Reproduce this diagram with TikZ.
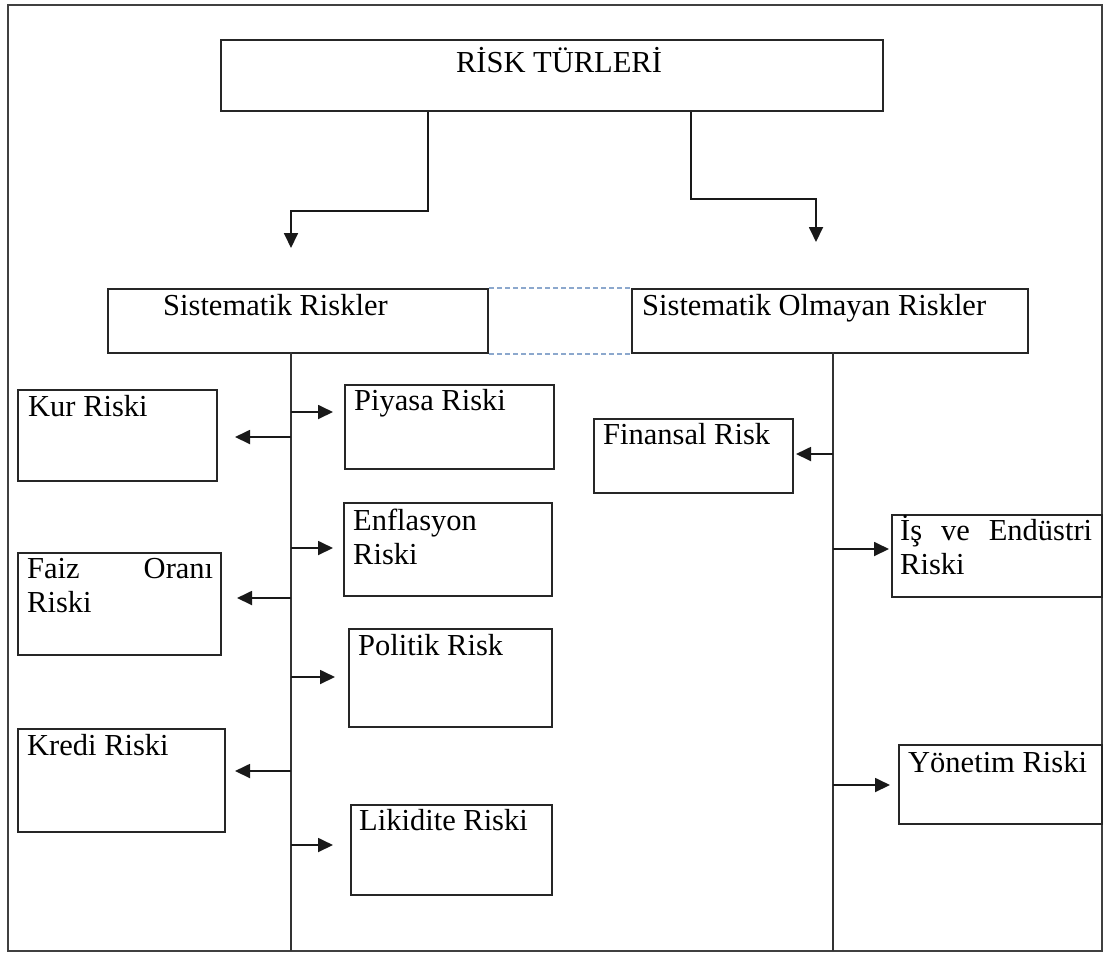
\documentclass[tikz,border=0pt]{standalone}
\usepackage{fontspec}
\setmainfont{Liberation Serif}
\usetikzlibrary{arrows.meta,calc}
\definecolor{dashc}{RGB}{140,168,205}
\begin{document}
\begin{tikzpicture}[x=1pt,y=-1pt,
  box/.style={draw=black!85,line width=2pt,inner sep=0pt,anchor=north west},
  txt/.style={font=\fontsize{30.5}{34.5}\selectfont,inner sep=0pt,anchor=base west},
  arr/.style={draw=black!90,line width=1.8pt,-{Triangle[length=15pt,width=14pt]}},
  trunk/.style={draw=black!80,line width=2pt},
  dashl/.style={draw=dashc,line width=1.3pt,dash pattern=on 5pt off 3pt}]
\useasboundingbox (0,0) rectangle (1107,954);
\draw[line width=2.8pt,black!75] (8,5) rectangle (1102,951);
% boxes
\node[box,minimum width=662pt,minimum height=71pt] (top) at (220,39) {};
\node[box,minimum width=380pt,minimum height=64pt] (sis) at (107,288) {};
\node[box,minimum width=396pt,minimum height=64pt] (sol) at (631,288) {};
\node[box,minimum width=199pt,minimum height=91pt] (kur) at (17,389) {};
\node[box,minimum width=203pt,minimum height=102pt] (faiz) at (17,552) {};
\node[box,minimum width=207pt,minimum height=103pt] (kredi) at (17,728) {};
\node[box,minimum width=209pt,minimum height=84pt] (piy) at (344,384) {};
\node[box,minimum width=208pt,minimum height=93pt] (enf) at (343,502) {};
\node[box,minimum width=203pt,minimum height=98pt] (pol) at (348,628) {};
\node[box,minimum width=201pt,minimum height=90pt] (lik) at (350,804) {};
\node[box,minimum width=199pt,minimum height=74pt] (fin) at (593,418) {};
\node[box,minimum width=210pt,minimum height=82pt] (isb) at (891,514) {};
\node[box,minimum width=203pt,minimum height=79pt] (yon) at (898,744) {};
% texts
\node[txt,anchor=base] (ttop) at (559,72) {RİSK TÜRLERİ};
\node[txt] (tsis) at (163,315) {Sistematik Riskler};
\node[txt] (tsol) at (642,315) {Sistematik Olmayan Riskler};
\node[txt] (tkur) at (28,416) {Kur Riski};
\node[txt] (tfaiz) at (27,578) {\parbox[t]{186pt}{\makebox[186pt][s]{Faiz Oranı}\\Riski}};
\node[txt] (tkredi) at (27,755) {Kredi Riski};
\node[txt] (tpiy) at (354,410) {Piyasa Riski};
\node[txt] (tenf) at (353,530) {\parbox[t]{190pt}{Enflasyon\\Riski}};
\node[txt] (tpol) at (358,655) {Politik Risk};
\node[txt] (tlik) at (359,830) {Likidite Riski};
\node[txt] (tfin) at (603,444) {Finansal Risk};
\node[txt] (tis) at (900,540) {\parbox[t]{192pt}{\makebox[192pt][s]{İş ve Endüstri}\\Riski}};
\node[txt] (tyon) at (908,772) {Yönetim Riski};
% dashed links
\draw[dashl] (sis.north east) -- (sol.north west);
\draw[dashl] (sis.south east) -- (sol.south west);
% top connectors
\coordinate (cL) at (428,0);
\coordinate (cR) at (691,0);
\coordinate (aL) at (291,248);
\coordinate (aR) at (816,242);
\draw[arr] (top.south -| cL) -- (428,211) -| (aL);
\draw[arr] (top.south -| cR) -- (691,199) -| (aR);
% trunks
\coordinate (tLt) at (291,352);
\coordinate (tLb) at (291,951);
\coordinate (tRt) at (833,352);
\coordinate (tRb) at (833,951);
\draw[trunk] (tLt) -- (tLb);
\draw[trunk] (tRt) -- (tRb);
% branch points
\coordinate (bKur) at (291,437);
\coordinate (bFaiz) at (291,598);
\coordinate (bKredi) at (291,771);
\coordinate (bPiy) at (291,412);
\coordinate (bEnf) at (291,548);
\coordinate (bPol) at (291,677);
\coordinate (bLik) at (291,845);
\coordinate (bFin) at (833,454);
\coordinate (bIs) at (833,549);
\coordinate (bYon) at (833,785);
\draw[arr,shorten >=17pt] (bKur) -- (bKur -| kur.east);
\draw[arr,shorten >=15pt] (bFaiz) -- (bFaiz -| faiz.east);
\draw[arr,shorten >=9pt] (bKredi) -- (bKredi -| kredi.east);
\draw[arr,shorten >=11pt] (bPiy) -- (bPiy -| piy.west);
\draw[arr,shorten >=10pt] (bEnf) -- (bEnf -| enf.west);
\draw[arr,shorten >=13pt] (bPol) -- (bPol -| pol.west);
\draw[arr,shorten >=17pt] (bLik) -- (bLik -| lik.west);
\draw[arr,shorten >=2pt] (bFin) -- (bFin -| fin.east);
\draw[arr,shorten >=2pt] (bIs) -- (bIs -| isb.west);
\draw[arr,shorten >=8pt] (bYon) -- (bYon -| yon.west);
\end{tikzpicture}
\end{document}
